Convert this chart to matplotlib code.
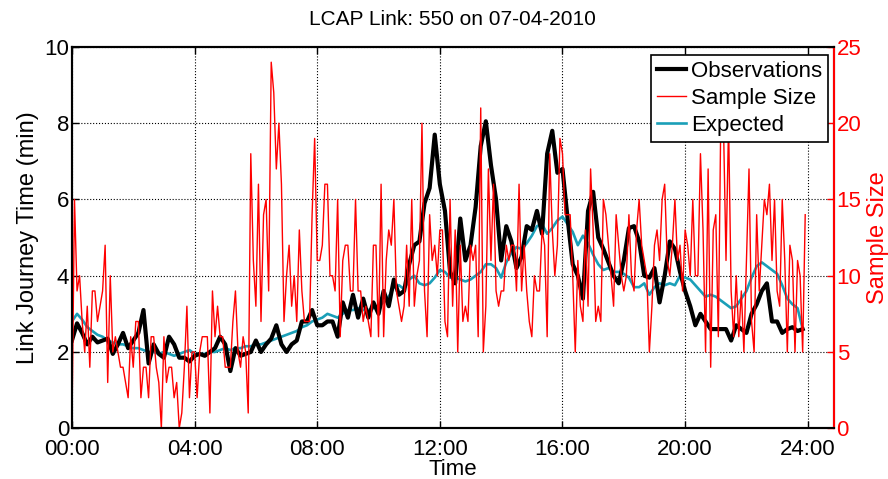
import numpy as np
import matplotlib
matplotlib.use("Agg")
import matplotlib.pyplot as plt

plt.rcParams['font.family'] = ['Liberation Sans', 'DejaVu Sans']

# journey time (min), every 10 minutes from 00:00
observations = [
    2.3, 2.75, 2.5, 2.2, 2.4, 2.25, 2.3, 2.35, 1.95, 2.2, 2.5, 2.1, 2.3, 2.5, 3.1, 1.7,
    2.2, 1.95, 1.85, 2.4, 2.2, 1.85, 1.85, 1.75, 1.9,
    1.95, 1.9, 2.0, 2.1, 2.4, 2.2, 1.5, 2.1, 1.9, 1.95, 2.0, 2.3, 2.0, 2.2, 2.35, 2.7,
    2.2, 2.0, 2.2, 2.3, 2.8, 2.8, 3.1, 2.7,
    2.7, 2.8, 2.8, 2.4, 3.3, 2.9, 3.5, 2.9, 3.4, 2.9, 3.3, 3.0, 3.6, 3.2, 3.9, 3.5,
    3.6, 4.3, 4.8, 4.9, 5.9, 6.3, 7.7, 6.4,
    5.7, 4.1, 3.8, 5.5, 4.4, 4.8, 5.8, 7.4, 8.05, 6.9, 6.0, 4.4, 5.3, 4.9, 4.2, 4.5,
    5.3, 5.2, 5.7, 5.1, 7.2, 7.8, 6.7, 6.8,
    5.5, 4.3, 4.0, 3.4, 5.7, 6.2, 5.0, 4.7, 4.35, 4.0, 3.8, 4.4, 5.25, 5.3, 4.9, 4.0,
    3.95, 4.2, 3.3, 4.0, 4.9, 4.7, 4.1, 3.6,
    3.2, 2.7, 3.0, 2.8, 2.6, 2.6, 2.6, 2.6, 2.3, 2.7, 2.6, 2.5, 3.0, 3.25, 3.6, 3.8,
    2.8, 2.8, 2.5, 2.6, 2.65, 2.55, 2.6,
]

expected = [
    2.8, 3.0, 2.85, 2.65, 2.55, 2.45, 2.4, 2.3, 2.25, 2.2, 2.2, 2.15, 2.1, 2.1, 2.05, 2.0,
    2.0, 1.95, 2.0, 1.95, 1.9, 1.95, 2.0, 2.05, 1.95,
    1.95, 1.95, 2.0, 2.0, 2.05, 2.1, 2.05, 2.1, 2.1, 2.15, 2.15, 2.2, 2.2, 2.25, 2.3, 2.35,
    2.4, 2.45, 2.5, 2.55, 2.65, 2.7, 2.8, 2.85,
    2.9, 3.0, 2.95, 2.9, 3.0, 3.1, 3.1, 3.15, 3.1, 3.1, 3.15, 3.2, 3.3, 3.45, 3.7, 3.75,
    3.65, 3.9, 4.0, 3.8, 3.75, 3.8, 3.95, 4.15,
    4.1, 3.95, 3.95, 3.9, 3.85, 3.9, 4.0, 4.1, 4.3, 4.3, 4.2, 3.95, 4.35, 4.6, 4.75, 4.7,
    4.85, 5.05, 5.3, 5.35, 5.1, 5.25, 5.45, 5.55,
    5.35, 5.15, 4.8, 5.05, 4.85, 4.55, 4.3, 4.15, 4.2, 4.1, 4.1, 4.05, 3.95, 3.7, 3.7, 3.8,
    3.5, 3.7, 3.8, 3.75, 3.8, 3.75, 4.0, 3.95,
    3.9, 3.75, 3.6, 3.45, 3.5, 3.45, 3.35, 3.25, 3.15, 3.2, 3.4, 3.6, 3.95, 4.25, 4.35, 4.25,
    4.15, 4.05, 3.75, 3.4, 3.25, 3.15, 2.6,
]

# number of samples, every 5 minutes from 00:00
sample_size = [
    0, 15, 9, 10, 7, 5, 8, 4, 9, 9, 7, 8, 9, 12, 3, 10, 5, 6, 5, 4, 4, 3, 2, 6,
    4, 7, 7, 2, 4, 4, 2, 6, 6, 4, 3, 0, 6, 3, 4, 4, 2, 3, 0, 1, 4, 8, 2, 5,
    5, 2, 5, 6, 6, 6, 1, 9, 6, 8, 6, 6, 4, 4, 4, 7, 9, 5, 4, 6, 5, 1, 18, 11,
    8, 16, 7, 14, 15, 9, 24, 22, 17, 20, 16, 7, 10, 12, 8, 10, 7, 13, 9, 7, 7, 7, 14, 19,
    11, 11, 12, 16, 16, 10, 10, 9, 15, 6, 11, 12, 12, 9, 9, 15, 9, 9, 7, 8, 7, 6, 12, 12,
    6, 16, 6, 11, 13, 12, 15, 9, 8, 7, 8, 12, 8, 15, 8, 10, 11, 20, 9, 6, 14, 11, 12, 10,
    13, 13, 7, 6, 15, 8, 13, 5, 12, 7, 8, 7, 12, 11, 12, 6, 21, 5, 8, 17, 11, 16, 9, 8,
    9, 9, 12, 11, 12, 12, 9, 16, 9, 12, 9, 7, 6, 10, 9, 9, 13, 12, 6, 18, 13, 10, 12, 19,
    18, 14, 14, 14, 10, 5, 11, 8, 7, 13, 8, 17, 13, 7, 8, 7, 15, 14, 12, 10, 8, 14, 12, 10,
    9, 10, 14, 10, 9, 13, 15, 12, 11, 10, 5, 8, 12, 13, 11, 15, 16, 11, 10, 12, 15, 11, 12, 9,
    13, 12, 10, 15, 10, 10, 18, 13, 5, 17, 4, 13, 14, 6, 21, 20, 11, 20, 9, 6, 10, 6, 9, 5,
    11, 17, 7, 5, 14, 9, 12, 15, 14, 16, 11, 15, 9, 8, 15, 11, 5, 12, 11, 5, 11, 10, 5, 14,
]

t_obs = np.arange(len(observations)) / 6.0
t_exp = np.arange(len(expected)) / 6.0
t_ss = np.arange(len(sample_size)) / 12.0

fig = plt.figure(figsize=(8.88, 4.79), dpi=100)
ax = fig.add_axes([0.081, 0.106, 0.858, 0.796])
ax2 = ax.twinx()

l3, = ax.plot(t_exp, expected, color='#1a9fb8', lw=1.9, label='Expected')
l1, = ax.plot(t_obs, observations, color='black', lw=3, label='Observations')
l2, = ax2.plot(t_ss, sample_size, color='red', lw=1, label='Sample Size')

ax.set_xlim(0, 24.85)
ax.set_ylim(0, 10)
ax2.set_ylim(0, 25)
ax.set_xticks(np.arange(0, 25, 4))
ax.set_xticklabels(['%02d:00' % h for h in range(0, 25, 4)])
ax.set_yticks(np.arange(0, 11, 2))
ax2.set_yticks(np.arange(0, 26, 5))

ax.grid(True, color='black', linestyle=':', lw=0.8)
ax.tick_params(direction='in', length=5, width=1, labelsize=16, top=True, right=False)
ax.tick_params(axis='x', pad=8)
ax.tick_params(axis='y', pad=2)
ax2.tick_params(direction='in', length=5, width=1, labelsize=16, colors='red', pad=2)
for s in ax.spines.values():
    s.set_linewidth(1.5)
for s in ax2.spines.values():
    s.set_linewidth(1.5)
ax2.spines['right'].set_color('red')

ax.set_xlabel('Time', fontsize=16, labelpad=-1)
ax.set_ylabel('Link Journey Time (min)', fontsize=17, labelpad=4)
ax2.set_ylabel('Sample Size', fontsize=17, color='red', labelpad=4)
ax.set_title('LCAP Link: 550 on 07-04-2010', fontsize=15, pad=16)

leg = ax2.legend([l1, l2, l3], ['Observations', 'Sample Size', 'Expected'],
                 loc='upper right', bbox_to_anchor=(0.992, 0.979), borderaxespad=0,
                 fontsize=16, fancybox=False, framealpha=1, edgecolor='black',
                 handlelength=1.3, handletextpad=0.25, borderpad=0.25, labelspacing=0.28)
leg.get_frame().set_linewidth(1.2)

fig.savefig('out.png', dpi=100)
